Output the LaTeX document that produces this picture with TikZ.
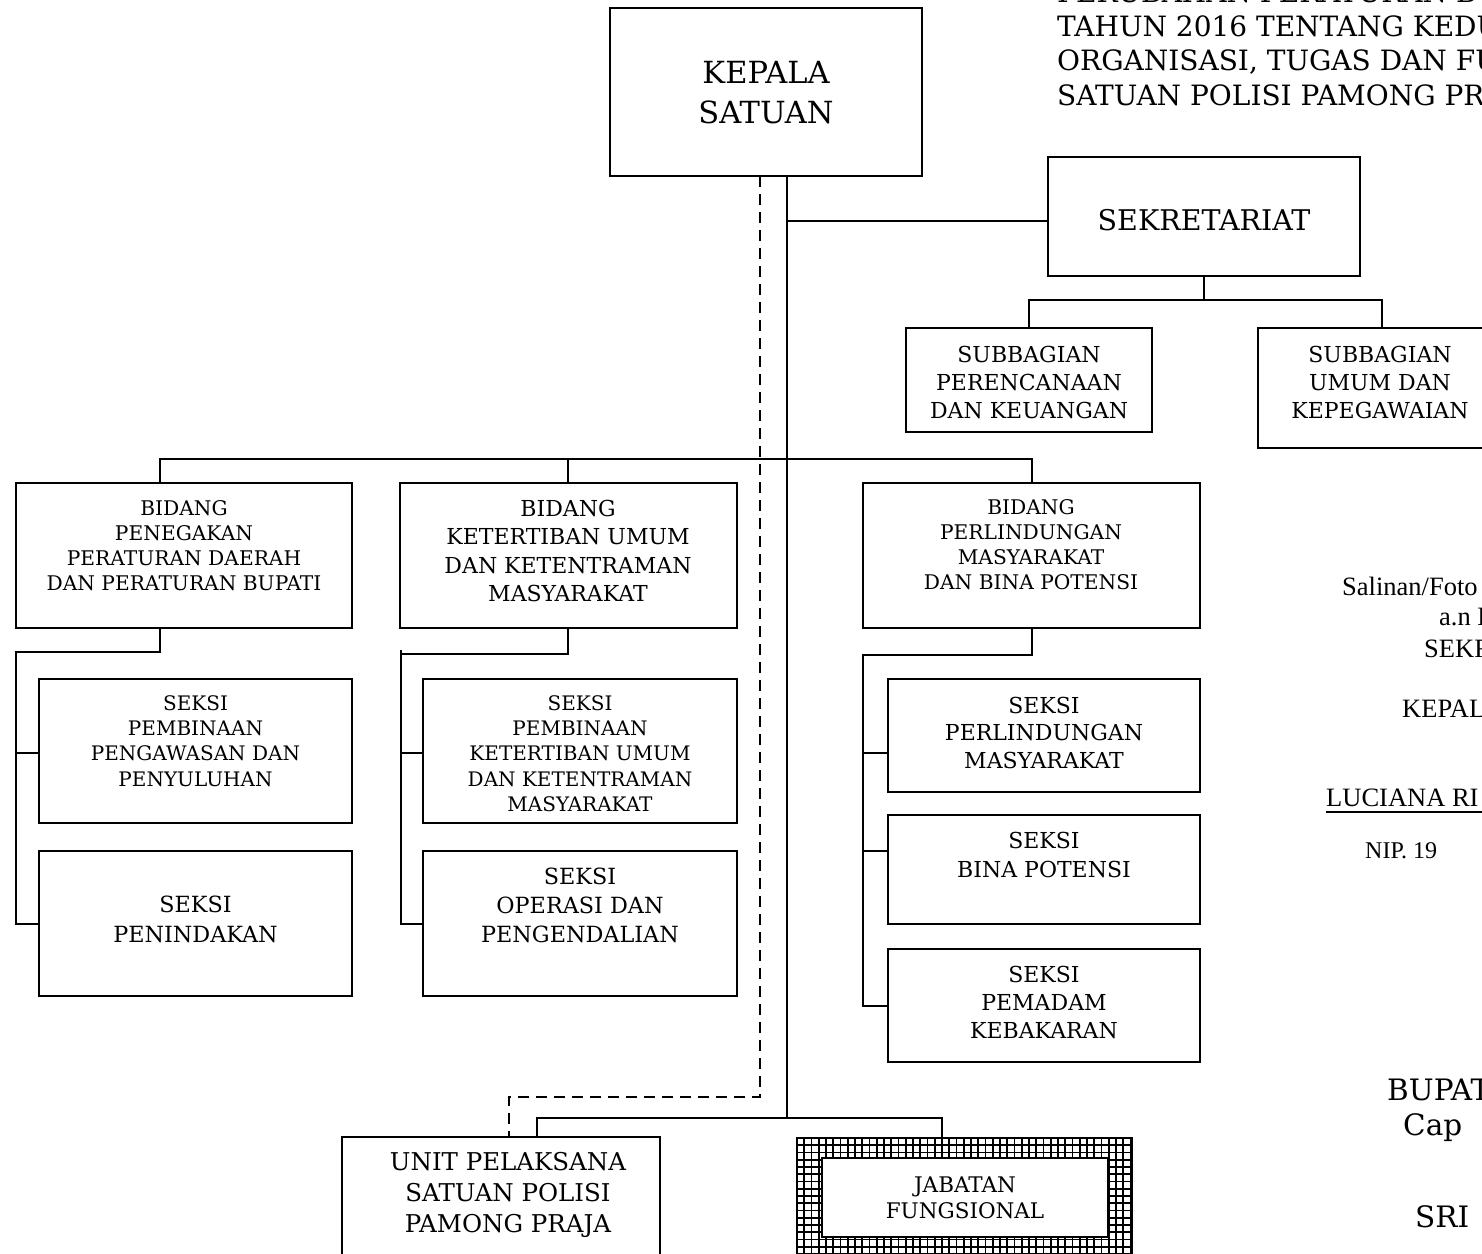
\documentclass[tikz,border=0pt]{standalone}
\usepackage{fontspec}
\setmainfont{DejaVu Serif}
\newfontfamily\tnr{Liberation Serif}
\newcommand\fs[2]{\fontsize{#1}{#2}\selectfont}
\newcommand\bx[5]{\node[box, minimum width={#4-#2}, minimum height={#5-#3}] (#1) at ({(#2+#4)/2},{(#3+#5)/2}) {};}
\tikzset{
  box/.style={draw, line width=1.9pt, inner sep=0pt, outer sep=0pt},
  conn/.style={line width=1.9pt},
  dashconn/.style={line width=2.4pt, dash pattern=on 11pt off 7pt},
  lbl/.style={align=center, inner sep=0pt},
  side/.style={anchor=base west, inner sep=0pt},
}
\begin{document}
\begin{tikzpicture}[x=1pt, y=-1pt]
\useasboundingbox (0,0) rectangle (1482,1253);
\clip (0,0) rectangle (1482,1253);
\fill[white] (0,0) rectangle (1482,1253);

% boxes
\bx{kep}{610}{8}{922}{176}
\bx{sek}{1048}{157}{1360}{276}
\bx{spk}{906}{328}{1152}{432}
\bx{suk}{1258}{328}{1506}{448}
\bx{b1}{16}{483}{352}{628}
\bx{b2}{400}{483}{737}{628}
\bx{b3}{863}{483}{1200}{628}
\bx{s11}{39}{679}{352}{823}
\bx{s12}{39}{851}{352}{996}
\bx{s21}{423}{679}{737}{823}
\bx{s22}{423}{851}{737}{996}
\bx{s31}{888}{679}{1200}{792}
\bx{s32}{888}{815}{1200}{924}
\bx{s33}{888}{949}{1200}{1062}
\bx{unit}{342}{1137}{660}{1290}
\bx{jf}{797}{1138}{1132}{1290}
\bx{jfin}{822}{1158}{1108}{1237}

% grid border of JABATAN FUNGSIONAL
\begin{scope}[even odd rule]
  \clip (797,1138) rectangle (1132,1290) (822,1158) rectangle (1108,1237);
  \foreach \i in {0,...,47} { \draw[line width=1.6pt] (797+\i*7.25,1130) -- (797+\i*7.25,1290); }
  \foreach \j in {0,...,20} { \draw[line width=1.6pt] (790,1138+\j*7.25) -- (1140,1138+\j*7.25); }
\end{scope}
\draw[line width=2.4pt] (797,1138) rectangle (1132,1290);
\draw[line width=2.4pt] (822,1158) rectangle (1108,1237);

% texts in boxes
\node[lbl, font=\fs{30.5}{40}] at (766,92.5) {KEPALA\\SATUAN};
\node[lbl, font=\fs{28.5}{34}] at (1204,220) {SEKRETARIAT};
\node[lbl, font=\fs{22}{28}] at (1029,382) {SUBBAGIAN\\PERENCANAAN\\DAN KEUANGAN};
\node[lbl, font=\fs{22}{28}] at (1380,382.5) {SUBBAGIAN\\UMUM DAN\\KEPEGAWAIAN};
\node[lbl, font=\fs{20.2}{25}] at (184,545.5) {BIDANG\\PENEGAKAN\\PERATURAN DAERAH\\DAN PERATURAN BUPATI};
\node[lbl, font=\fs{22}{28.5}] at (568,551) {BIDANG\\KETERTIBAN UMUM\\DAN KETENTRAMAN\\MASYARAKAT};
\node[lbl, font=\fs{20.2}{25}] at (1031,545) {BIDANG\\PERLINDUNGAN\\MASYARAKAT\\DAN BINA POTENSI};
\node[lbl, font=\fs{20}{25.3}] at (195.5,741) {SEKSI\\PEMBINAAN\\PENGAWASAN DAN\\PENYULUHAN};
\node[lbl, font=\fs{22.3}{30}] at (195.5,919) {SEKSI\\PENINDAKAN};
\node[lbl, font=\fs{20}{25.3}] at (580,753.5) {SEKSI\\PEMBINAAN\\KETERTIBAN UMUM\\DAN KETENTRAMAN\\MASYARAKAT};
\node[lbl, font=\fs{22.3}{29}] at (580,905) {SEKSI\\OPERASI DAN\\PENGENDALIAN};
\node[lbl, font=\fs{22}{27.5}] at (1044,732.5) {SEKSI\\PERLINDUNGAN\\MASYARAKAT};
\node[lbl, font=\fs{22}{29}] at (1044,854.5) {SEKSI\\BINA POTENSI};
\node[lbl, font=\fs{22}{28}] at (1044,1002) {SEKSI\\PEMADAM\\KEBAKARAN};
\node[lbl, font=\fs{24.5}{31}] at (508,1195) {UNIT PELAKSANA\\SATUAN POLISI\\PAMONG PRAJA};
\node[lbl, font=\fs{21.5}{26.5}] at (965,1197.7) {JABATAN\\FUNGSIONAL};

% connectors
\coordinate (m1) at (787,221);
\coordinate (m3) at (787,1118);
\draw[conn] (kep.south -| m1) -- (m3);
\draw[conn] (m1) -- (m1 -| sek.west);
\draw[conn] (sek.south) -- (1204,300) coordinate (sj);
\draw[conn] (spk.north) -- (spk.north |- sj) -- (suk.north |- sj) -- (suk.north);
\draw[conn] (b1.north -| 160,0) -- (160,459) -- (1032,459) -- (b3.north -| 1032,0);
\draw[conn] (568,459) -- (b2.north -| 568,0);
% bidang 1
\draw[conn] (b1.south -| 160,0) -- (160,652) -- (16,652) -- (16,924) -- (s12.west |- 0,924);
\draw[conn] (16,753) -- (s11.west |- 0,753);
% bidang 2
\draw[conn] (b2.south -| 568,0) -- (568,654) -- (401,654);
\draw[conn] (401,650) -- (401,924) -- (s22.west |- 0,924);
\draw[conn] (401,753) -- (s21.west |- 0,753);
% bidang 3
\draw[conn] (b3.south -| 1032,0) -- (1032,655) -- (863,655) -- (863,1006) -- (s33.west |- 0,1006);
\draw[conn] (863,753) -- (s31.west |- 0,753);
\draw[conn] (863,851) -- (s32.west |- 0,851);
% bottom
\draw[conn] (unit.north -| 537,0) -- (537,1118) -- (942,1118) -- (jf.north -| 942,0);
% dashed
\draw[dashconn] (kep.south -| 760,0) -- (760,1097) -- (509,1097) -- (unit.north -| 509,0);

% header text
\node[side, font=\fs{28}{34}] at (1057,2) {PERUBAHAN PERATURAN BUPATI};
\node[side, font=\fs{28}{34}] at (1057,36) {TAHUN 2016 TENTANG KEDUDUKAN};
\node[side, font=\fs{28}{34}] at (1057,70) {ORGANISASI, TUGAS DAN FUNGSI};
\node[side, font=\fs{28}{34}] at (1057,105) {SATUAN POLISI PAMONG PRAJA};

% attestation text
\node[side, font=\tnr\fs{26.5}{30}] at (1342,595) {Salinan/Foto Copy};
\node[side, font=\tnr\fs{26.5}{30}] at (1439,625) {a.n BUPATI};
\node[side, font=\tnr\fs{26.5}{30}] at (1424,657) {SEKRETARIS};
\node[side, font=\tnr\fs{26.5}{30}] at (1402,717) {KEPALA};
\node[side, font=\tnr\fs{26.5}{30}] (luc) at (1326,806) {LUCIANA RI};
\draw[line width=1.6pt] (1326,812) -- (1482,812);
\node[side, font=\tnr\fs{24}{30}] at (1365,858) {NIP. 19};

% signature text
\node[side, font=\fs{29.5}{34}] at (1387,1100) {BUPATI};
\node[side, font=\fs{29.5}{34}] at (1403,1135) {Cap};
\node[side, font=\fs{29.5}{34}] at (1415,1227) {SRI};
\end{tikzpicture}
\end{document}
